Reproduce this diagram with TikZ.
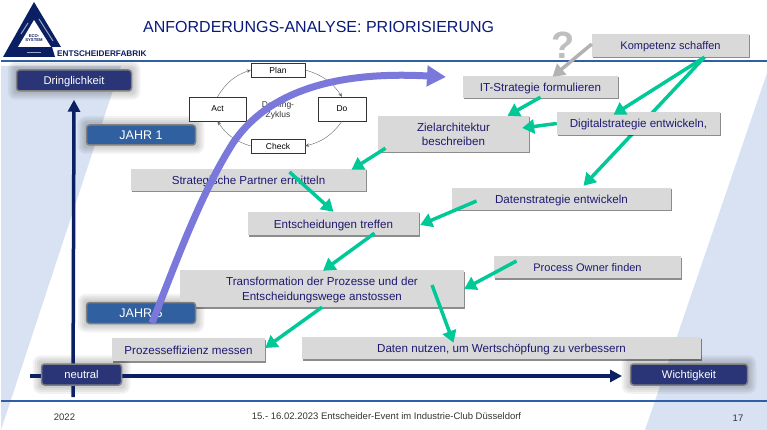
\documentclass[tikz,border=0pt]{standalone}
\usepackage{fontspec}
\setmainfont{Liberation Sans}
\usepackage{xcolor}
\usetikzlibrary{arrows.meta}
\usetikzlibrary{shadows}
\definecolor{navy}{HTML}{0B1F63}
\definecolor{tinte}{HTML}{1F1A70}
\definecolor{grau}{HTML}{D9D9D9}
\definecolor{linie}{HTML}{2F5FA5}
\definecolor{flaeche}{HTML}{D9E2F2}
\definecolor{gruen}{HTML}{00C896}
\definecolor{lila}{HTML}{7B78DC}
\definecolor{dunkel}{HTML}{2A3577}
\definecolor{jahrblau}{HTML}{30609F}
\pgfdeclarelayer{back}
\pgfsetlayers{back,main}
\tikzset{
	aufgabe/.style={fill=grau,text=tinte,inner sep=0pt,align=center,font=\fontsize{11.6}{14.5}\selectfont,
		text height=11.5pt,text depth=2.5pt,
		drop shadow={shadow xshift=0.5pt,shadow yshift=-1.5pt,fill=black,opacity=.45}},
	zweizeilig/.style={text height=25.8pt,text depth=2.4pt},
	knopf/.style={rounded corners=3pt,draw=black!50,line width=1.5pt,text=white,inner sep=0pt,text height=11pt,text depth=2.5pt},
	zyklus/.style={draw=black!80,fill=white,inner sep=0pt,font=\fontsize{8.5}{9}\selectfont},
	bogen/.style={draw=black!60,line width=0.4pt,-{Stealth[length=4pt,width=3.5pt]}},
	pfeil/.style={draw=gruen,line width=3.5pt,-{Triangle[length=12pt,width=14pt]}},
	achse/.style={draw=navy,line width=3.5pt,-{Triangle[length=12pt,width=12pt]}},
}
\begin{document}
\begin{tikzpicture}[x=1pt,y=-1pt]
\useasboundingbox (0,0) rectangle (767,430);

% logo
\fill[navy] (34,2) -- (61,47) -- (52,47) -- (55,57) -- (3,57) -- cycle;
\fill[white] (34,20) -- (51,47) -- (18,47) -- cycle;
\draw[white,opacity=.6,line width=1pt] (21,34) -- (28,23);
\draw[white,opacity=.6,line width=1pt] (39,19) -- (53,41);
\draw[white,opacity=.6,line width=1pt] (27,52.5) -- (41,52.5);
\node[text=navy,font=\bfseries\fontsize{4.2}{4.6}\selectfont,align=center,inner sep=0pt] (oekosystem) at (34,38) {ECO-\\SYSTEM};
\node[anchor=west,text=navy,inner sep=0pt,font=\bfseries\fontsize{8.2}{9}\selectfont] (fabrik) at (57,54) {ENTSCHEIDERFABRIK};
\node[anchor=west,text=navy!85!blue,inner sep=0pt,font=\fontsize{16}{18}\selectfont] (titel) at (143,26.5) {ANFORDERUNGS-ANALYSE: PRIORISIERUNG};
\node[text=black!25,inner sep=0pt,font=\bfseries\fontsize{38}{40}\selectfont] (frage) at (563,45) {?};

% deming
\node[zyklus,minimum width=54pt,minimum height=14pt] (plan) at (278,70) {Plan};
\node[zyklus,minimum width=57pt,minimum height=24pt] (act) at (217.5,109) {Act};
\node[zyklus,minimum width=48pt,minimum height=24pt] (do) at (342,109) {Do};
\node[zyklus,minimum width=54pt,minimum height=14pt] (check) at (278,146) {Check};
\node[inner sep=0pt,align=center,text=black!80,font=\fontsize{8.5}{10}\selectfont] (deming) at (278,110) {Deming-\\Zyklus};
\draw[bogen] (plan.east) to[bend left=20] (do.north);
\draw[bogen] (do.south) to[bend left=20] (check.east);
\draw[bogen] (check.west) to[bend left=20] (act.south);
\draw[bogen] (act.north) to[bend left=20] (plan.west);

% boxes
\node[aufgabe,minimum width=157pt,minimum height=23pt,font=\fontsize{11}{14}\selectfont] (kompetenz) at (670.5,45.5) {Kompetenz schaffen};
\node[aufgabe,minimum width=155pt,minimum height=22pt] (itstrategie) at (540.5,87) {IT-Strategie formulieren};
\node[aufgabe,zweizeilig,minimum width=151pt,minimum height=36pt] (ziel) at (453.5,134) {Zielarchitektur\\beschreiben};
\node[aufgabe,minimum width=163pt,minimum height=23pt] (digital) at (638.5,123.5) {Digitalstrategie entwickeln,};
\node[aufgabe,minimum width=219pt,minimum height=22pt] (daten) at (561.5,199) {Datenstrategie entwickeln};
\node[aufgabe,minimum width=235pt,minimum height=22pt] (partner) at (248.5,180) {Strategische Partner ermitteln};
\node[aufgabe,minimum width=171pt,minimum height=23pt] (entscheid) at (333.5,223.5) {Entscheidungen treffen};
\node[aufgabe,zweizeilig,minimum width=284pt,minimum height=37pt] (prozesse) at (322,288.5) {Transformation der Prozesse und der\\Entscheidungswege anstossen};
\node[aufgabe,minimum width=187pt,minimum height=22pt,font=\fontsize{11}{14}\selectfont] (owner) at (587.5,267) {Process Owner finden};
\node[aufgabe,minimum width=153pt,minimum height=23pt] (effizienz) at (188.5,349.5) {Prozesseffizienz messen};
\node[aufgabe,minimum width=399pt,minimum height=22pt] (nutzen) at (501.5,348) {Daten nutzen, um Wertschöpfung zu verbessern};

\node[knopf,fill=dunkel,minimum width=115pt,minimum height=21pt,font=\fontsize{11.2}{12}\selectfont] (dringend) at (74,80.5) {Dringlichkeit};
\node[knopf,fill=jahrblau,minimum width=109pt,minimum height=20pt,font=\fontsize{12.5}{14}\selectfont] (jahreins) at (141,135) {JAHR 1};
\node[knopf,fill=jahrblau,minimum width=109pt,minimum height=21pt,font=\fontsize{12.5}{14}\selectfont] (jahrfuenf) at (141,313) {JAHR 5};
\node[knopf,fill=dunkel,minimum width=80pt,minimum height=21pt,font=\fontsize{11.2}{12}\selectfont] (neutral) at (81.5,374.5) {neutral};
\node[knopf,fill=dunkel,minimum width=117pt,minimum height=21pt,font=\fontsize{11.2}{12}\selectfont] (wichtig) at (689,374.5) {Wichtigkeit};

\coordinate (vfuss) at (73,397);
\coordinate (hfuss) at (30,376);
\begin{pgfonlayer}{back}
\fill[flaeche] (1,66) -- (121,66) -- (1,430) -- cycle;
\fill[flaeche] (767,73) -- (645,430) -- (767,430) -- cycle;
\draw[linie,line width=1.2pt] (1,61) -- (767,61);
\draw[linie,line width=1.5pt] (1,401) -- (767,401);
\foreach \n in {dringend,jahreins,jahrfuenf,neutral,wichtig}
{
	\foreach \weite in {2,4,6,8}
	{
		\fill[black,opacity=.05,rounded corners=\weite pt] ([shift={(-\weite,-\weite)}]\n.north west) rectangle ([shift={(\weite,\weite)}]\n.south east);
	}
}
\draw[achse] (vfuss) -- ([yshift=-8pt]dringend.south);
\draw[achse] (hfuss) -- (622,376);
\draw[pfeil] ([xshift=34pt]kompetenz.south) -- ([xshift=22pt,yshift=2pt]daten.north);
\end{pgfonlayer}

% arrows
\draw[pfeil] ([xshift=34pt]kompetenz.south) -- ([xshift=-25pt,yshift=-3pt]digital.north);
\draw[pfeil,draw=black!30] ([yshift=1.5pt]kompetenz.west) -- ([xshift=12pt,yshift=-1pt]itstrategie.north);
\draw[pfeil] ([yshift=1pt,xshift=0pt]itstrategie.south) -- ([xshift=54pt]ziel.north);
\draw[pfeil] ([yshift=0pt]digital.west) -- ([xshift=-7pt,yshift=6pt]ziel.east);
\draw[pfeil] ([xshift=-68pt,yshift=4pt]ziel.south) -- ([xshift=103pt,yshift=-1pt]partner.north);
\draw[pfeil] ([xshift=41pt,yshift=8pt]partner.center) -- ([yshift=0pt]entscheid.north);
\draw[pfeil] ([xshift=-85pt,yshift=-2pt]daten.center) -- ([xshift=1pt,yshift=-1.5pt]entscheid.east);
\draw[pfeil] ([xshift=41pt,yshift=2pt]entscheid.south) -- ([xshift=1pt,yshift=-1pt]prozesse.north);
\draw[pfeil] ([xshift=-71pt,yshift=6pt]owner.center) -- ([yshift=-0.5pt]prozesse.east);
\draw[pfeil] ([xshift=110pt,yshift=3.5pt]prozesse.center) -- ([xshift=-48pt,yshift=-6pt]nutzen.north);
\draw[pfeil] (prozesse.south) -- ([yshift=1.5pt]effizienz.east);

% curve
\draw[lila,line width=7pt,-{Triangle[length=19pt,width=20pt]}] (jahrfuenf.center) ++(11,10)
	.. controls (175,265) and (200,195) .. (233,143)
	.. controls (262,100) and (320,70) .. (446,77);

% footer
\node[inner sep=0pt,text=black!80,font=\fontsize{9.5}{10}\selectfont] (jahr) at (64.5,417) {2022};
\node[inner sep=0pt,text=black!80,font=\fontsize{9.5}{10}\selectfont] (event) at (386.5,416.5) {15.- 16.02.2023 Entscheider-Event im Industrie-Club Düsseldorf};
\node[inner sep=0pt,text=black!80,font=\fontsize{9.5}{10}\selectfont] (seite) at (738,418) {17};
\end{tikzpicture}
\end{document}
